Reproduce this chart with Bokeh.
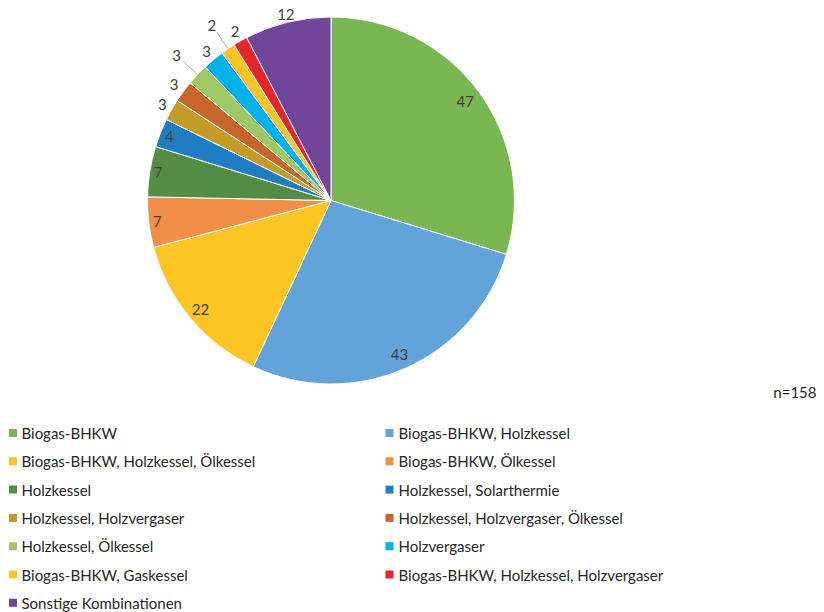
import numpy as np
from bokeh.plotting import figure
from bokeh.models import Range1d, ColumnDataSource
from bokeh.core.properties import value
from bokeh.embed import file_html
from bokeh.resources import INLINE

categories = [
    "Biogas-BHKW",
    "Biogas-BHKW, Holzkessel",
    "Biogas-BHKW, Holzkessel, Ölkessel",
    "Biogas-BHKW, Ölkessel",
    "Holzkessel",
    "Holzkessel, Solarthermie",
    "Holzkessel, Holzvergaser",
    "Holzkessel, Holzvergaser, Ölkessel",
    "Holzkessel, Ölkessel",
    "Holzvergaser",
    "Biogas-BHKW, Gaskessel",
    "Biogas-BHKW, Holzkessel, Holzvergaser",
    "Sonstige Kombinationen",
]
counts = [47, 43, 22, 7, 7, 4, 3, 3, 3, 3, 2, 2, 12]
colors = ["#7AB752", "#62A3D9", "#FDC524", "#F18E48", "#548C45", "#1F7EC1",
          "#C39B27", "#C7652B", "#9DC865", "#02B1EA", "#FDC524", "#E6262E", "#71459A"]
# label distance from centre (px) per slice; style only
label_r = [167, 169, 170, 175, 175, 174, 194, 195, 212, 194, 212, 194, 191]
leader = [False] * 8 + [True, False, True, False, False]
n_total = 158

W, H = 824, 612
FONT = value("Lato")
p = figure(width=W, height=H, output_backend="svg", toolbar_location=None,
           x_range=Range1d(0, W), y_range=Range1d(0, H), min_border=0)
p.axis.visible = False
p.grid.visible = False
p.outline_line_color = None

cx, cy, R = 330.5, H - 200.0, 183.5
vals = np.array(counts, dtype=float)
cum = np.cumsum(vals)
prev = cum - vals
tot = vals.sum()
start = np.pi / 2 - 2 * np.pi * cum / tot
end = np.pi / 2 - 2 * np.pi * prev / tot
mid = np.pi / 2 - 2 * np.pi * (prev + vals / 2) / tot

src = ColumnDataSource(dict(start=start, end=end, color=colors))
p.wedge(x=cx, y=cy, radius=R, radius_units="screen", start_angle="start", end_angle="end",
        fill_color="color", line_color="white", line_width=1, source=src)

lr = np.array(label_r, dtype=float)
lx = cx + lr * np.cos(mid)
ly = cy + lr * np.sin(mid)
p.text(x=lx, y=ly, text=[str(c) for c in counts], text_align="center", text_baseline="middle",
       text_font=FONT, text_font_size="15px", text_color="#404040")

lead = [i for i, f in enumerate(leader) if f]
for i in lead:
    a = mid[i]
    p.line(x=[cx + (R + 1) * np.cos(a), cx + (lr[i] - 9) * np.cos(a)],
           y=[cy + (R + 1) * np.sin(a), cy + (lr[i] - 9) * np.sin(a)],
           line_color="#A6A6A6", line_width=1)

# legend (two columns, row-major)
idx = np.arange(len(categories))
row = idx // 2
col = idx % 2
sq_x = 12.5 + col * 376.5
tx = 21 + col * 377
ry = H - (432.5 + row * 28.3)
p.scatter(x=sq_x, y=ry, marker="square", size=8, fill_color=colors, line_color=None)
p.text(x=tx, y=ry, text=categories, text_align="left", text_baseline="middle",
       text_font=FONT, text_font_size="15px", text_color="#262626")

p.text(x=[816], y=[H - 391], text=["n=%d" % n_total], text_align="right",
       text_baseline="middle", text_font=FONT, text_font_size="15px", text_color="#262626")

open("out.html", "w").write(file_html(p, INLINE))
